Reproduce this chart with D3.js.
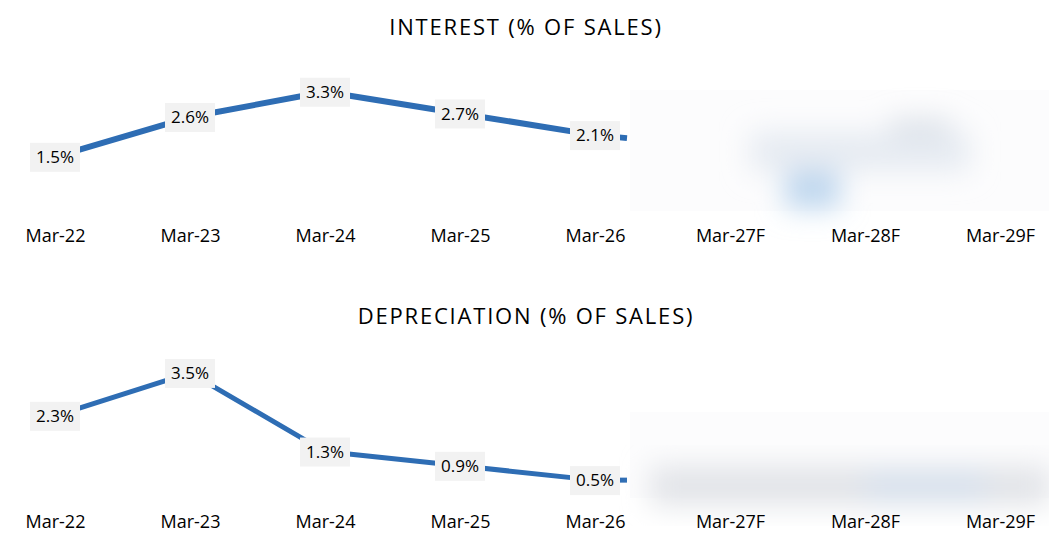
<!DOCTYPE html>
<html>
<head>
<meta charset="utf-8">
<script src="https://cdn.jsdelivr.net/npm/d3@7"></script>
<style>
  body { margin: 0; background: #fff; }
  svg { display: block; font-family: "Open Sans", "Noto Sans", sans-serif; }
</style>
</head>
<body>
<svg id="canvas"></svg>
<script>
const WIDTH = 1049;
const HEIGHT = 558;

const periods = ["Mar-22", "Mar-23", "Mar-24", "Mar-25", "Mar-26", "Mar-27F", "Mar-28F", "Mar-29F"];
const actualPeriods = ["Mar-22", "Mar-23", "Mar-24", "Mar-25", "Mar-26"];
const interestValues = [1.5, 2.6, 3.3, 2.7, 2.1];
const depreciationValues = [2.3, 3.5, 1.3, 0.9, 0.5];

const LINE_COLOR = "#2e6db4";

const canvas = d3.select("#canvas").attr("width", WIDTH).attr("height", HEIGHT);

const xScale = d3.scalePoint().domain(periods).range([55, 1000]);

const defs = canvas.append("defs");
defs.append("filter")
  .attr("id", "smudge")
  .attr("x", "-20%").attr("y", "-50%").attr("width", "140%").attr("height", "200%")
  .append("feGaussianBlur")
  .attr("stdDeviation", 14);

const drawPanel = (cfg) => {
  const g = canvas.append("g");

  const yScale = d3.scaleLinear().domain([0, cfg.max]).range([cfg.bottom, cfg.top]);

  g.append("text")
    .attr("x", 526)
    .attr("y", cfg.titleY)
    .attr("text-anchor", "middle")
    .attr("font-size", 22)
    .attr("letter-spacing", 1.8)
    .attr("fill", "#000")
    .text(cfg.title);

  const points = actualPeriods.map((p, i) => ({ period: p, value: cfg.values[i] }));

  const line = d3.line()
    .x((d) => xScale(d.period))
    .y((d) => yScale(d.value));

  g.append("path")
    .datum(points)
    .attr("fill", "none")
    .attr("stroke", LINE_COLOR)
    .attr("stroke-width", cfg.stroke)
    .attr("stroke-linejoin", "round")
    .attr("d", line);

  // short stub of the line heading into the hidden forecast years
  const last = points[points.length - 1];
  g.append("line")
    .attr("x1", xScale(last.period))
    .attr("y1", yScale(last.value))
    .attr("x2", xScale(last.period) + 32)
    .attr("y2", yScale(last.value) + cfg.stubDrop)
    .attr("stroke", LINE_COLOR)
    .attr("stroke-width", cfg.stroke);

  // blurred-out forecast area
  const hidden = g.append("g");
  hidden.append("rect")
    .attr("x", xScale("Mar-26") + 35)
    .attr("y", cfg.maskTop)
    .attr("width", WIDTH - xScale("Mar-26") - 35)
    .attr("height", cfg.bottom - cfg.maskTop)
    .attr("fill", "#fcfcfd");
  const smudges = hidden.append("g").attr("filter", "url(#smudge)");
  cfg.smudges.forEach((s) => {
    smudges.append("rect")
      .attr("x", xScale(s.period) + s.dx)
      .attr("y", yScale(s.level))
      .attr("width", s.w)
      .attr("height", s.h)
      .attr("fill", s.color);
  });

  const labels = g.selectAll(".lbl")
    .data(points)
    .enter()
    .append("g")
    .attr("class", "lbl")
    .attr("transform", (d) => `translate(${xScale(d.period)},${yScale(d.value)})`);

  labels.append("rect")
    .attr("x", -25)
    .attr("y", -14)
    .attr("width", 50)
    .attr("height", 29)
    .attr("fill", "#f2f2f2");

  labels.append("text")
    .attr("text-anchor", "middle")
    .attr("dy", "0.36em")
    .attr("font-size", 17)
    .attr("fill", "#000")
    .text((d) => d.value.toFixed(1) + "%");

  const xAxis = d3.axisBottom(xScale).tickSize(0).tickPadding(0);
  const ax = g.append("g")
    .attr("transform", `translate(0, ${cfg.axisY})`)
    .call(xAxis);
  ax.select(".domain").remove();
  ax.selectAll("text")
    .attr("font-size", 18)
    .attr("font-family", "\"Open Sans\", sans-serif")
    .attr("fill", "#000")
    .attr("dy", "0.35em");
};

drawPanel({
  title: "INTEREST (% OF SALES)",
  titleY: 35,
  values: interestValues,
  max: 5.84,
  top: 0,
  bottom: 211,
  axisY: 236,
  stroke: 6,
  stubDrop: 3,
  maskTop: 90,
  smudges: [
    { period: "Mar-28F", dx: -80, level: 1.6, w: 55, h: 55, color: "#bcd6ee" },
    { period: "Mar-28F", dx: 25, level: 2.5, w: 60, h: 45, color: "#cfd6df" },
    { period: "Mar-27F", dx: 20, level: 2.2, w: 220, h: 40, color: "#e6ebf2" }
  ]
});

drawPanel({
  title: "DEPRECIATION (% OF SALES)",
  titleY: 324,
  values: depreciationValues,
  max: 4.45,
  top: 339,
  bottom: 498,
  axisY: 522,
  stroke: 5,
  stubDrop: 0,
  maskTop: 412,
  smudges: [
    { period: "Mar-27F", dx: -80, level: 0.9, w: 400, h: 40, color: "#e2e4e8" },
    { period: "Mar-28F", dx: 0, level: 0.7, w: 120, h: 25, color: "#d6e1ee" }
  ]
});
</script>
</body>
</html>
